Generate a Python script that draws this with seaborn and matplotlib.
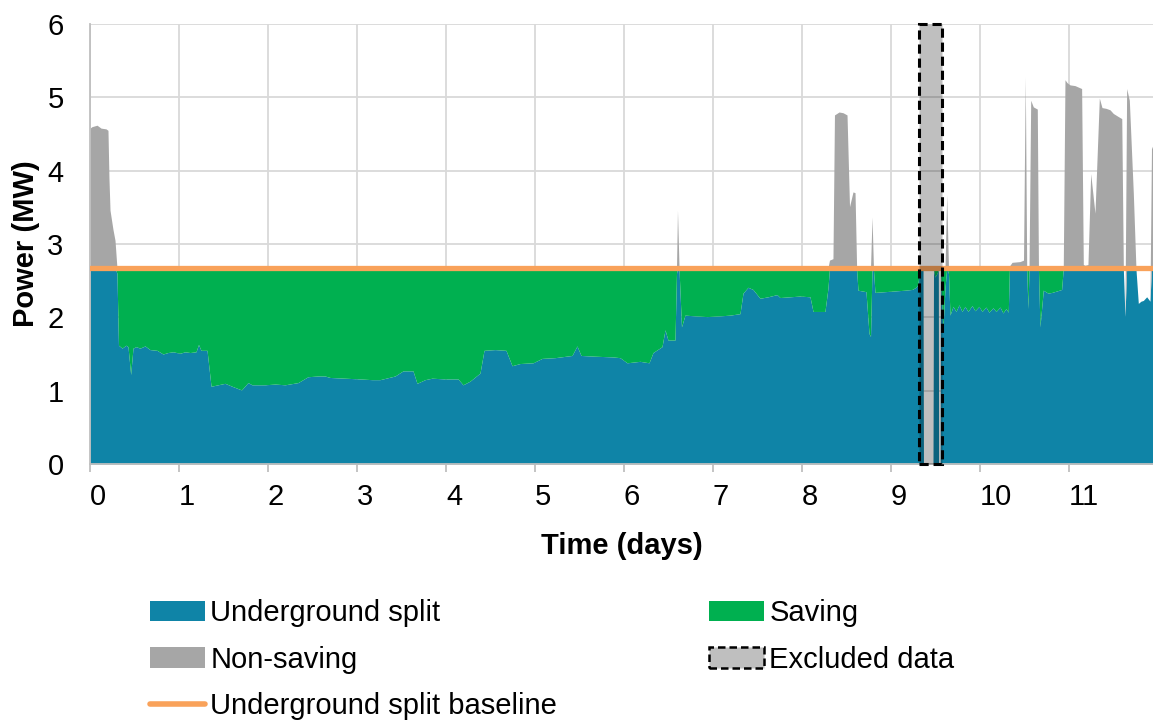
import numpy as np
import matplotlib
matplotlib.use("Agg")
import matplotlib.pyplot as plt
import seaborn as sns
from matplotlib.patches import Patch
from matplotlib.lines import Line2D

# ---------------- data ----------------
time_days = [
    0.000, 0.022, 0.079, 0.124, 0.180, 0.202, 0.213, 0.225, 0.258, 0.281, 0.303, 0.320,
    0.360, 0.404, 0.427, 0.457, 0.483, 0.517, 0.562, 0.618, 0.674, 0.753, 0.820, 0.876, 0.933,
    1.011, 1.067, 1.124, 1.191, 1.219, 1.247, 1.315, 1.360, 1.438, 1.517, 1.596, 1.702, 1.775,
    1.820, 1.966, 2.079, 2.191, 2.337, 2.449, 2.562, 2.640, 2.697, 2.865, 3.034, 3.169, 3.258,
    3.427, 3.517, 3.629, 3.674, 3.764, 3.843, 3.989, 4.135, 4.191, 4.270, 4.382, 4.427, 4.551,
    4.674, 4.742, 4.831, 4.978, 5.079, 5.225, 5.416, 5.472, 5.517, 5.674, 5.876, 5.955, 6.034,
    6.180, 6.281, 6.326, 6.427, 6.461, 6.494, 6.573, 6.590, 6.601, 6.618, 6.646, 6.685, 6.798,
    6.933, 7.079, 7.191, 7.303, 7.337, 7.393, 7.449, 7.528, 7.618, 7.719, 7.753, 7.865, 7.978,
    8.090, 8.124, 8.258, 8.292, 8.309, 8.348, 8.365, 8.416, 8.461, 8.506, 8.534, 8.573, 8.596,
    8.614, 8.629, 8.719, 8.753, 8.770, 8.787, 8.803, 8.820, 8.933, 9.045, 9.157, 9.236, 9.281,
    9.303, 9.320, 9.360, 9.365, 9.472, 9.478, 9.494, 9.517, 9.532, 9.535, 9.553, 9.556, 9.584,
    9.607, 9.626, 9.646, 9.663, 9.697, 9.730, 9.764, 9.798, 9.831, 9.865, 9.910, 9.944, 9.989,
    10.022, 10.067, 10.101, 10.146, 10.180, 10.225, 10.258, 10.292, 10.318, 10.331, 10.360,
    10.449, 10.489, 10.509, 10.525, 10.539, 10.551, 10.570, 10.599, 10.644, 10.657, 10.674,
    10.711, 10.764, 10.809, 10.865, 10.917, 10.936, 10.955, 10.978, 11.011, 11.067, 11.142,
    11.161, 11.180, 11.213, 11.244, 11.292, 11.341, 11.371, 11.416, 11.461, 11.498, 11.551,
    11.593, 11.611, 11.629, 11.648, 11.678, 11.723, 11.753, 11.779, 11.809, 11.835, 11.873,
    11.910, 11.927, 11.944,
]

power_mw = [
    4.58, 4.60, 4.62, 4.58, 4.57, 4.55, 3.90, 3.46, 3.20, 3.05, 2.60, 1.62,
    1.58, 1.62, 1.60, 1.22, 1.58, 1.60, 1.58, 1.61, 1.56, 1.55, 1.50, 1.52, 1.53,
    1.51, 1.53, 1.52, 1.53, 1.63, 1.55, 1.55, 1.06, 1.08, 1.10, 1.06, 1.01, 1.11,
    1.08, 1.08, 1.09, 1.08, 1.11, 1.19, 1.20, 1.20, 1.18, 1.17, 1.16, 1.15, 1.15,
    1.20, 1.27, 1.27, 1.10, 1.15, 1.17, 1.16, 1.16, 1.08, 1.13, 1.24, 1.55, 1.56,
    1.55, 1.34, 1.37, 1.38, 1.44, 1.45, 1.48, 1.61, 1.48, 1.47, 1.46, 1.45, 1.38,
    1.40, 1.38, 1.52, 1.60, 1.83, 1.69, 1.69, 2.60, 3.46, 2.70, 1.87, 2.03, 2.02,
    2.01, 2.02, 2.03, 2.05, 2.33, 2.41, 2.38, 2.26, 2.28, 2.31, 2.27, 2.28, 2.29,
    2.28, 2.08, 2.08, 2.40, 2.78, 2.80, 4.76, 4.80, 4.79, 4.76, 3.51, 3.71, 3.70,
    2.65, 2.37, 2.35, 1.78, 1.74, 3.37, 2.65, 2.34, 2.35, 2.36, 2.37, 2.38, 2.41,
    2.45, 2.65, 2.65, 0.00, 0.00, 2.65, 2.55, 2.60, 2.65, 0.00, 0.00, 2.60, 1.83,
    2.40, 3.67, 2.60, 2.03, 2.15, 2.08, 2.17, 2.08, 2.15, 2.08, 2.16, 2.09, 2.15,
    2.08, 2.14, 2.07, 2.13, 2.08, 2.14, 2.06, 2.12, 2.07, 2.70, 2.75,
    2.76, 2.78, 5.28, 2.65, 2.12, 2.65, 4.96, 4.87, 4.84, 2.65, 1.87,
    2.37, 2.33, 2.34, 2.36, 2.38, 2.70, 5.24, 5.20, 5.17, 5.16, 5.12,
    2.72, 2.71, 2.72, 3.96, 3.42, 4.99, 4.86, 4.85, 4.83, 4.78, 4.74,
    4.71, 2.65, 2.01, 5.12, 4.96, 3.69, 2.65, 2.19, 2.22, 2.23, 2.28,
    2.22, 4.30, 4.35,
]

baseline_mw = 2.673
saving_end_day = 11.60
excluded_days = [9.315, 9.570]

x_ticks = list(range(0, 12))
y_ticks = list(range(0, 7))
legend_labels = ["Underground split", "Non-saving", "Underground split baseline",
                 "Saving", "Excluded data"]

# ---------------- styling ----------------
BLUE = "#0F84A7"
GREEN = "#00B050"
GREY = "#A6A6A6"
ORANGE = "#F9A25A"
GRID = "#D9D9D9"
AXIS = "#BFBFBF"

sns.set_theme(style="white")
plt.rcParams["font.family"] = ["Liberation Sans", "DejaVu Sans"]
plt.rcParams["text.color"] = "black"
plt.rcParams["axes.labelcolor"] = "black"

t = np.asarray(time_days)
p = np.asarray(power_mw)
assert len(t) == len(p)

blue_top = np.minimum(p, baseline_mw)
saving = np.where((p > 0) & (t <= saving_end_day), np.clip(baseline_mw - p, 0, None), 0.0)
nonsaving = np.clip(p - baseline_mw, 0, None)

fig = plt.figure(figsize=(11.53, 7.22), dpi=100)
ax = fig.add_axes([90 / 1153, (722 - 464) / 722, (1153 - 90) / 1153, (464 - 24) / 722])

ax.fill_between(t, 0, blue_top, color=BLUE, lw=0, zorder=2)
ax.fill_between(t, blue_top, blue_top + saving, color=GREEN, lw=0, zorder=2)
ax.fill_between(t, blue_top + saving, blue_top + saving + nonsaving, color=GREY, lw=0, zorder=2)

sns.lineplot(x=t, y=np.full_like(t, baseline_mw), color=ORANGE, lw=3.8, ax=ax,
             legend=False, zorder=3)

ax.axvspan(excluded_days[0], excluded_days[1], facecolor=(0, 0, 0, 0.25), edgecolor="black",
           linestyle=(0, (3, 1.6)), linewidth=2.2, zorder=4, clip_on=False)

ax.set_xlim(t[0], t[-1])
ax.set_ylim(0, 6)
ax.set_xticks(x_ticks)
ax.set_xticklabels([str(v) for v in x_ticks], ha="left")
ax.set_yticks(y_ticks)
ax.grid(True, color=GRID, lw=1.3)
ax.set_axisbelow(True)

for s in ["top", "right"]:
    ax.spines[s].set_visible(False)
for s in ["left", "bottom"]:
    ax.spines[s].set_color(AXIS)
    ax.spines[s].set_linewidth(1.3)

ax.tick_params(axis="x", bottom=True, length=6, width=1.3, color=AXIS, pad=8,
               labelsize=21, labelcolor="black")
ax.tick_params(axis="y", left=False, length=0, pad=19, labelsize=21, labelcolor="black")

ax.set_xlabel("Time (days)", fontsize=21, fontweight="bold", labelpad=15, color="black")
ax.set_ylabel("Power (MW)", fontsize=21, fontweight="bold", labelpad=5, color="black")

handles = [
    Patch(facecolor=BLUE, edgecolor="none"),
    Patch(facecolor=GREY, edgecolor="none"),
    Line2D([], [], color=ORANGE, lw=4),
    Patch(facecolor=GREEN, edgecolor="none"),
    Patch(facecolor="#BFBFBF", edgecolor="black", linestyle=(0, (3, 1.6)), linewidth=1.8),
]
leg = fig.legend(handles, legend_labels, ncol=2, loc="upper left",
                 bbox_to_anchor=(150 / 1153, 1 - 599 / 722), frameon=False, fontsize=21,
                 handlelength=1.9, handleheight=0.7, handletextpad=0.17, columnspacing=5.2,
                 labelspacing=0.64, borderpad=0, borderaxespad=0)
for txt in leg.get_texts():
    txt.set_color("black")

fig.savefig("out.png", dpi=100)
